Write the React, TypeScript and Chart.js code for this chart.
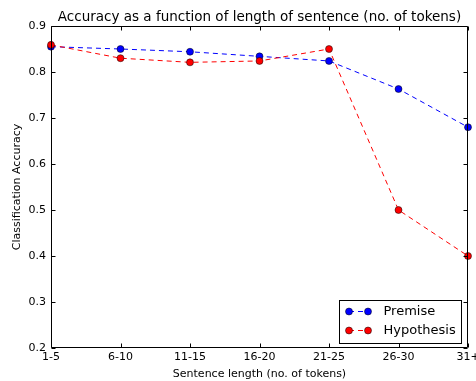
import React, { useEffect, useRef } from 'react';
import { Chart, registerables } from 'chart.js';

Chart.register(...registerables);

const categories = ['1-5', '6-10', '11-15', '16-20', '21-25', '26-30', '31+'];
const premise = [0.855, 0.85, 0.844, 0.834, 0.824, 0.763, 0.68];
const hypothesis = [0.859, 0.83, 0.821, 0.824, 0.85, 0.5, 0.4];
const seriesNames = ['Premise', 'Hypothesis'];
const seriesColors = ['#0000ff', '#ff0000'];
const chartTitle = 'Accuracy as a function of length of sentence (no. of tokens)';
const xTitle = 'Sentence length (no. of tokens)';
const yTitle = 'Classification Accuracy';
const yMin = 0.2;
const yMax = 0.9;
const yStep = 0.1;

const FONT = "'DejaVu Sans', 'Liberation Sans', sans-serif";

const mplPlugin = {
  id: 'mplFrame',
  afterDatasetsDraw(chart: any) {
    const { ctx, chartArea } = chart;
    const { left, right, top, bottom } = chartArea;
    const xs = chart.scales.x;
    const ys = chart.scales.y;
    ctx.save();
    ctx.strokeStyle = '#000';
    ctx.lineWidth = 1;
    ctx.setLineDash([]);
    const L = Math.round(left) + 0.5;
    const R = Math.round(right) - 0.5;
    const T = Math.round(top) + 0.5;
    const B = Math.round(bottom) - 0.5;
    ctx.beginPath();
    ctx.rect(L, T, R - L, B - T);
    ctx.stroke();
    const tl = 4;
    ctx.beginPath();
    xs.ticks.forEach((_: any, i: number) => {
      const x = Math.round(xs.getPixelForTick(i)) + 0.5;
      ctx.moveTo(x, B);
      ctx.lineTo(x, B - tl);
      ctx.moveTo(x, T);
      ctx.lineTo(x, T + tl);
    });
    ys.ticks.forEach((_: any, i: number) => {
      const y = Math.round(ys.getPixelForTick(i)) + 0.5;
      ctx.moveTo(L, y);
      ctx.lineTo(L + tl, y);
      ctx.moveTo(R, y);
      ctx.lineTo(R - tl, y);
    });
    ctx.stroke();

    // title
    ctx.fillStyle = '#000';
    ctx.font = `13.5px ${FONT}`;
    ctx.textAlign = 'center';
    ctx.textBaseline = 'middle';
    ctx.fillText(chartTitle, (left + right) / 2, 17);
    ctx.restore();
  },
  afterDraw(chart: any) {
    const { ctx, chartArea } = chart;
    const datasets = chart.data.datasets;
    ctx.save();
    ctx.font = `13px ${FONT}`;
    let maxW = 0;
    datasets.forEach((d: any) => {
      maxW = Math.max(maxW, ctx.measureText(d.label).width);
    });
    const textOff = 44;
    const w = Math.round(textOff + maxW + 6);
    const h = 43;
    const bx = Math.round(chartArea.right - 7 - w) + 0.5;
    const by = Math.round(chartArea.bottom - 5 - h) + 0.5;
    ctx.fillStyle = '#fff';
    ctx.strokeStyle = '#000';
    ctx.lineWidth = 1;
    ctx.fillRect(bx, by, w, h);
    ctx.strokeRect(bx, by, w, h);
    datasets.forEach((d: any, i: number) => {
      const cy = by + 11 + i * 19;
      const x1 = bx + 9.5;
      const x2 = bx + 28.5;
      ctx.strokeStyle = d.borderColor;
      ctx.lineWidth = 1;
      ctx.setLineDash([5, 4]);
      ctx.beginPath();
      ctx.moveTo(x1, cy);
      ctx.lineTo(x2, cy);
      ctx.stroke();
      ctx.setLineDash([]);
      [x1, x2].forEach((px) => {
        ctx.beginPath();
        ctx.arc(px, cy, 3.5, 0, Math.PI * 2);
        ctx.fillStyle = d.pointBackgroundColor;
        ctx.fill();
        ctx.strokeStyle = '#000';
        ctx.lineWidth = 0.5;
        ctx.stroke();
      });
      ctx.fillStyle = '#000';
      ctx.textAlign = 'left';
      ctx.textBaseline = 'middle';
      ctx.fillText(d.label, bx + textOff, cy);
    });
    ctx.restore();
  },
};

export default function App() {
  const ref = useRef<HTMLCanvasElement | null>(null);
  useEffect(() => {
    document.body.style.margin = '0';
    const canvas = ref.current;
    if (!canvas) return;
    const seriesData = [premise, hypothesis];
    const chart = new Chart(canvas, {
      type: 'line',
      data: {
        labels: categories,
        datasets: seriesData.map((vals, i) => ({
          label: seriesNames[i],
          data: vals,
          borderColor: seriesColors[i],
          backgroundColor: seriesColors[i],
          pointBackgroundColor: seriesColors[i],
          pointBorderColor: '#000',
          pointBorderWidth: 0.5,
          pointRadius: 3.5,
          borderWidth: 1,
          borderDash: [5, 4],
          fill: false,
          tension: 0,
          order: seriesData.length - i,
        })),
      },
      options: {
        responsive: false,
        animation: false,
        devicePixelRatio: 1,
        layout: { padding: { top: 26, right: 0, bottom: 0, left: 0 } },
        plugins: {
          legend: { display: false },
          tooltip: { enabled: false },
          title: { display: false },
        },
        scales: {
          x: {
            type: 'category',
            offset: false,
            grid: { display: false, drawTicks: false },
            border: { display: false },
            ticks: {
              color: '#000',
              font: { family: FONT, size: 11 },
              padding: 3,
              maxRotation: 0,
              autoSkip: false,
            },
            title: {
              display: true,
              text: xTitle,
              color: '#000',
              font: { family: FONT, size: 11 },
              padding: { top: 0, bottom: 0 },
            },
            afterFit(scale: any) {
              scale.height = 33;
              scale.paddingLeft = 0;
              scale.paddingRight = 8;
            },
          },
          y: {
            type: 'linear',
            min: yMin,
            max: yMax,
            grid: { display: false, drawTicks: false },
            border: { display: false },
            ticks: {
              stepSize: yStep,
              color: '#000',
              font: { family: FONT, size: 11 },
              padding: 5,
              callback: (v: any) => Number(v).toFixed(1),
            },
            title: {
              display: true,
              text: yTitle,
              color: '#000',
              font: { family: FONT, size: 11 },
              padding: { top: 11, bottom: 0 },
            },
            afterFit(scale: any) {
              scale.width = 51;
              scale.paddingTop = 0;
              scale.paddingBottom = 0;
            },
          },
        },
      },
      plugins: [mplPlugin],
    } as any);
    return () => chart.destroy();
  }, []);
  return (
    <div style={{ width: 476, height: 381 }}>
      <canvas ref={ref} width={476} height={381} />
    </div>
  );
}
